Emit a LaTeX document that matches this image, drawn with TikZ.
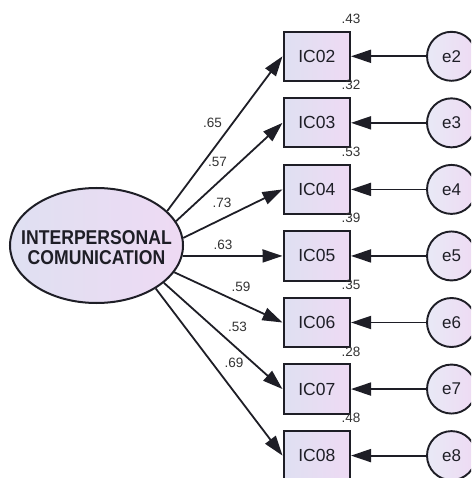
\documentclass[tikz,border=0pt]{standalone}
\usepackage{fontspec}
\setmainfont{Liberation Sans}
\newfontfamily\latfont[FakeStretch=0.88]{Liberation Sans}
\usetikzlibrary{arrows.meta,shapes.geometric}
\definecolor{fillL}{HTML}{DFE0F2}
\definecolor{fillR}{HTML}{EEDAF3}
\definecolor{ink}{HTML}{1E1E26}
\definecolor{numink}{HTML}{333333}
\begin{document}
\begin{tikzpicture}[x=1pt,y=-1pt,
  latent/.style={draw=ink, line width=2pt, ellipse, minimum width=173pt,
    minimum height=115pt, inner sep=0pt, left color=fillL, right color=fillR},
  latentlabel/.style={font=\latfont\bfseries\fontsize{20}{20}\selectfont,
    align=center, text=ink, inner sep=0pt},
  obs/.style={draw=ink, line width=2pt, rectangle, minimum width=66.5pt,
    minimum height=49.3pt, inner sep=0pt, left color=fillL, right color=fillR,
    font=\fontsize{17.5}{17.5}\selectfont, text=ink},
  err/.style={draw=ink, line width=1.9pt, circle, minimum size=49pt,
    inner sep=0pt, left color=fillL!70!white, right color=fillR,
    font=\fontsize{17}{17}\selectfont, text=ink},
  link/.style={draw=ink, line width=1.8pt,
    -{Triangle[length=20pt,width=13pt]}},
  coef/.style={font=\fontsize{13.5}{13.5}\selectfont, text=numink, inner sep=0pt},
]
\useasboundingbox (0,0) rectangle (471,478);
\clip (0,0) rectangle (471,478);

% latent factor
\node[latent] (L) at (96.5,245.5) {};
\node[latentlabel] (Ltxt) at (96.5,247.5) {INTERPERSONAL\\COMUNICATION};

% indicators, their error terms and squared multiple correlations
\foreach \i/\r [count=\k from 0] in {2/.43,3/.32,4/.53,5/.39,6/.35,7/.28,8/.48} {
  \node[obs] (b\i) at (316.75,56.3+66.55*\k) {IC0\i};
  \node[err] (e\i) at (451.5,56.3+66.55*\k) {e\i};
  \node[coef, yshift=12pt] (r\i) at (b\i.north east) {\r};
  \draw[link] (e\i) -- (b\i);
}

% standardized loadings
\foreach \i/\a/\v/\x/\y in {2/26.7/.65/212.5/123, 3/17.3/.57/217.5/161.5,
    4/5.7/.73/222/203, 5/-7/.63/223/244.5, 6/-19.7/.59/241/287,
    7/-29.6/.53/237.5/327, 8/-36.9/.69/234/362.5} {
  \draw[link] (L.\a) -- (b\i.west);
  \node[coef] (c\i) at (\x,\y) {\v};
}
\end{tikzpicture}
\end{document}
